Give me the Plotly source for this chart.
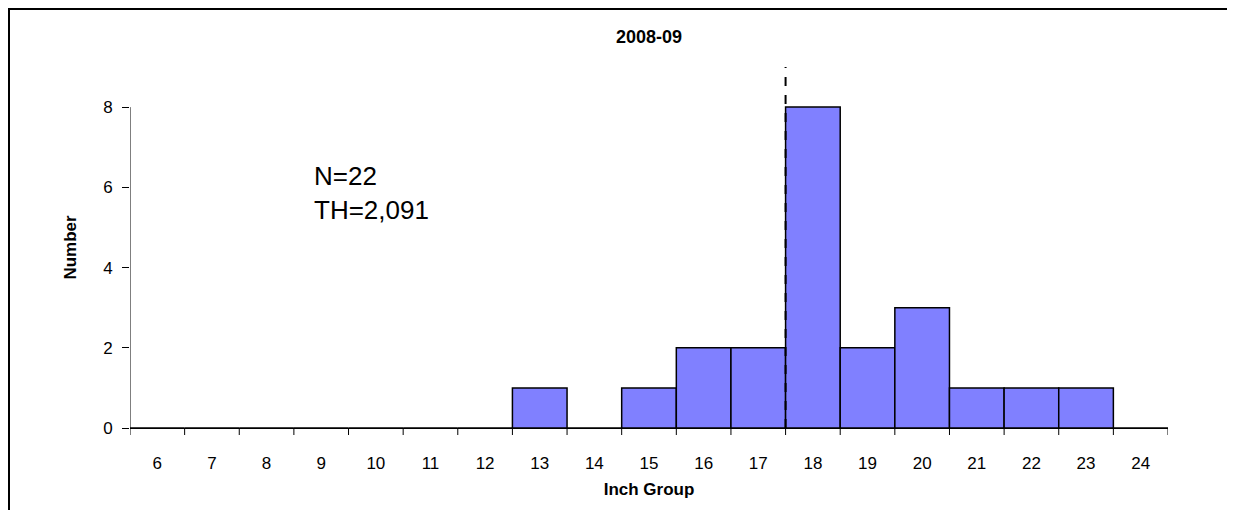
import plotly.graph_objects as go

groups = list(range(6, 25))
counts = [0, 0, 0, 0, 0, 0, 0, 1, 0, 1, 2, 2, 8, 2, 3, 1, 1, 1, 0]
marker_x = 17.5
y_max = 9

F = "Liberation Sans, Arial"
fig = go.Figure()
fig.add_bar(x=groups, y=counts, width=1, marker=dict(color="#8080FF", line=dict(color="black", width=1.5)))
fig.add_shape(type="line", x0=marker_x, x1=marker_x, y0=0, y1=y_max, xref="x", yref="y",
              line=dict(color="black", width=2, dash="dash"))
fig.add_shape(type="line", x0=5.5, x1=5.5, y0=0, y1=8, xref="x", yref="y", line=dict(color="black", width=1))
fig.add_shape(type="rect", xref="paper", yref="paper", x0=-121/1038, x1=1103/1038, y0=-1.0, y1=419/361,
              line=dict(color="black", width=2), layer="below")
fig.add_annotation(x=8.83, y=5.85, xref="x", yref="y", xanchor="left", yanchor="middle", showarrow=False, align="left",
                   text="N=22<br>TH=2,091", font=dict(size=26, family=F, color="black"))
fig.update_layout(
    width=1235, height=510, margin=dict(l=122, r=75, t=59, b=90, autoexpand=False),
    plot_bgcolor="white", paper_bgcolor="white", showlegend=False,
    title=dict(text="<b>2008-09</b>", x=641/1235, xanchor="center", y=1-29/510, yanchor="middle",
               font=dict(size=18, family=F, color="black"), automargin=False),
    font=dict(family=F, size=17, color="black"),
    xaxis=dict(range=[5.5, 24.5], tickmode="array", tickvals=groups, ticktext=[str(g) for g in groups],
               showgrid=False, zeroline=False, showline=True, linecolor="black", ticks="", automargin=False,
               ticklabelstandoff=20,
               tickfont=dict(size=17, family=F, color="black"),
               title=dict(text="<b>Inch Group</b>", font=dict(size=17, family=F, color="black"), standoff=10)),
    yaxis=dict(range=[0, y_max], tickvals=[0, 2, 4, 6, 8], showgrid=False, zeroline=False, automargin=False,
               showline=False, ticks="outside", ticklen=7, tickcolor="black", ticklabelstandoff=6,
               tickfont=dict(size=17, family=F, color="black"),
               title=dict(text="<b>Number</b>", font=dict(size=17, family=F, color="black"), standoff=22)),
)
for b in [g + 0.5 for g in range(5, 25)]:
    fig.add_shape(type="line", x0=b, x1=b, y0=0, y1=-7/361, xref="x", yref="paper", line=dict(color="black", width=1))
fig.write_html("out.html")
